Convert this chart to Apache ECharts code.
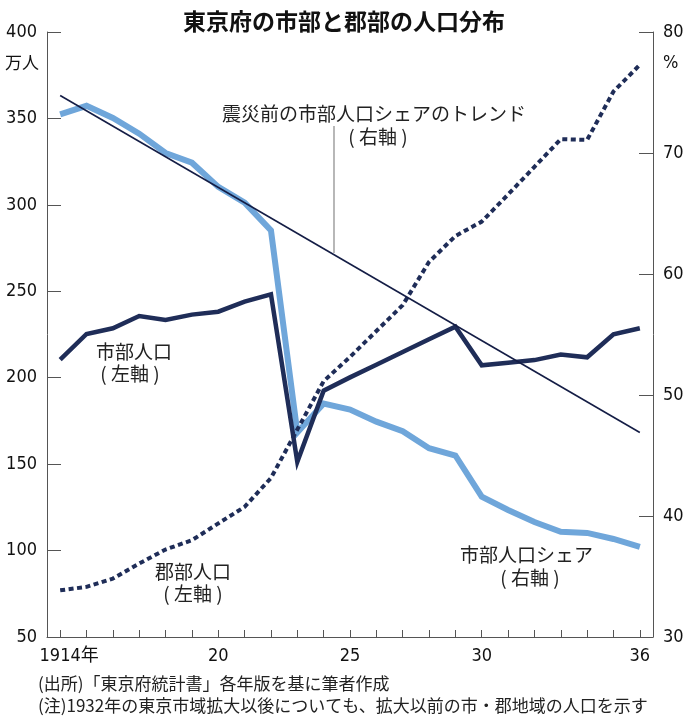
<!DOCTYPE html>
<html>
<head>
<meta charset="utf-8">
<script src="https://cdn.jsdelivr.net/npm/echarts@6/dist/echarts.min.js"></script>
<style>
html,body{margin:0;padding:0;background:#fff;}
#chart{width:688px;height:717px;}
</style>
</head>
<body>
<div id="chart"></div>
<script>
// ---- data ----
const years = ['1914','1915','1916','1917','1918','1919','1920','1921','1922','1923','1924','1925',
               '1926','1927','1928','1929','1930','1931','1932','1933','1934','1935','1936'];
// 市部人口 (万人, left axis)
const cityPop = [210.5,225.3,228.6,235.7,233.4,236.5,238.2,244.0,248.2,151.3,192.5,200.2,
                 207.5,214.9,222.2,229.5,207.2,208.7,210.2,213.4,211.8,225.1,228.6];
// 郡部人口 (万人, left axis)
const countyPop = [77.0,79.0,83.8,92.5,100.6,106.0,115.7,125.3,142.0,170.0,198.0,212.0,
                   227.0,242.0,267.0,282.0,290.3,306.0,322.0,338.0,337.6,365.6,381.0];
// 市部人口シェア (%, right axis)
const cityShare = [73.2,73.9,72.9,71.6,70.0,69.2,67.2,65.9,63.6,46.9,49.3,48.8,
                   47.8,47.0,45.6,45.0,41.6,40.5,39.5,38.7,38.6,38.1,37.45];
// 震災前の市部人口シェアのトレンド (%, right axis)
const trendYears = ['1914','1936'];
const trendValues = [74.75, 46.9];
// x tick labels
const labelYears = ['1914','1920','1925','1930','1936'];
const labelTexts = ['1914年','20','25','30','36'];

// pick a condensed numeric font if one is installed
function hasFont(name) {
  const c = document.createElement('canvas').getContext('2d');
  const s = '0123456789 abcdef';
  c.font = '40px monospace'; const a = c.measureText(s).width;
  c.font = '40px "' + name + '", monospace'; const b = c.measureText(s).width;
  c.font = '40px serif'; const a2 = c.measureText(s).width;
  c.font = '40px "' + name + '", serif'; const b2 = c.measureText(s).width;
  return a !== b || a2 !== b2;
}
let NUM_FAMILY = 'Liberation Sans', NUM_SIZE = 18;
if (hasFont('Liberation Sans Narrow')) { NUM_FAMILY = 'Liberation Sans Narrow'; NUM_SIZE = 21; }
else if (hasFont('DejaVu Sans Condensed')) { NUM_FAMILY = 'DejaVu Sans Condensed'; NUM_SIZE = 18; }
const NUM_FONT = '"' + NUM_FAMILY + '","Noto Sans CJK JP",sans-serif';
const JP_FONT = '"Noto Sans CJK JP","Noto Sans",sans-serif';
const NAVY = '#1f2d58';
const BLUE = '#6fa6da';
const AXIS = '#555';

const chart = echarts.init(document.getElementById('chart'), null, {renderer:'canvas'});

function jpText(x, y, text, align, size) {
  return {type:'text', x:x, y:y, style:{text:text, fontFamily:JP_FONT, fontSize:size||19,
          fill:'#222', align:align||'center', verticalAlign:'middle'}};
}

const option = {
  backgroundColor:'#fff',
  animation:false,
  title:{
    text:'東京府の市部と郡部の人口分布',
    left:'center', top:5,
    textStyle:{fontFamily:JP_FONT, fontSize:23, fontWeight:'bold', color:'#111'}
  },
  grid:{left:47, right:35, top:32, bottom:80, containLabel:false},
  xAxis:{
    type:'category', data:years, boundaryGap:true,
    axisLine:{show:true, lineStyle:{color:AXIS, width:1}},
    axisTick:{show:true, inside:true, length:7, alignWithLabel:true, interval:0,
              lineStyle:{color:AXIS, width:1}},
    axisLabel:{
      interval:function(i, v){ return labelYears.indexOf(v) >= 0; },
      formatter:function(v){
        const k = labelYears.indexOf(v);
        if (k === 0) return '{first|' + labelTexts[k] + '}';
        return k >= 0 ? labelTexts[k] : '';
      },
      rich:{first:{padding:[0,0,0,NUM_SIZE], fontFamily:NUM_FONT, fontSize:NUM_SIZE, color:'#111'}},
      fontFamily:NUM_FONT, fontSize:NUM_SIZE, color:'#111', margin:10
    },
    splitLine:{show:false}
  },
  yAxis:[
    {
      type:'value', min:50, max:400, interval:50, position:'left',
      axisLine:{show:true, lineStyle:{color:AXIS, width:1}},
      axisTick:{show:true, inside:true, length:14, lineStyle:{color:AXIS, width:1}},
      axisLabel:{fontFamily:NUM_FONT, fontSize:NUM_SIZE, color:'#111', margin:10},
      splitLine:{show:false}
    },
    {
      type:'value', min:30, max:80, interval:10, position:'right',
      axisLine:{show:true, lineStyle:{color:AXIS, width:1}},
      axisTick:{show:true, inside:true, length:14, lineStyle:{color:AXIS, width:1}},
      axisLabel:{fontFamily:NUM_FONT, fontSize:NUM_SIZE, color:'#111', margin:10},
      splitLine:{show:false}
    }
  ],
  series:[
    {
      name:'市部人口シェア', type:'line', yAxisIndex:1, data:cityShare,
      showSymbol:false, symbol:'none',
      lineStyle:{color:BLUE, width:6, join:'miter'}, z:2
    },
    {
      name:'郡部人口', type:'line', yAxisIndex:0, data:countyPop,
      showSymbol:false, symbol:'none',
      lineStyle:{color:NAVY, width:4, type:[5,3.5], cap:'butt'}, z:3
    },
    {
      name:'市部人口', type:'line', yAxisIndex:0, data:cityPop,
      showSymbol:false, symbol:'none',
      lineStyle:{color:NAVY, width:4.5, join:'miter'}, z:4
    },
    {
      name:'トレンド', type:'line', yAxisIndex:1,
      data:trendYears.map(function(y, i){ return [y, trendValues[i]]; }),
      showSymbol:false, symbol:'none',
      lineStyle:{color:'#141d45', width:1.6}, z:5
    }
  ],
  graphic:[
    {type:'text', x:39, y:63, style:{text:'万人', fontFamily:JP_FONT, fontSize:17, fill:'#111',
      align:'right', verticalAlign:'middle'}},
    {type:'text', x:663, y:63, style:{text:'%', fontFamily:NUM_FONT, fontSize:NUM_SIZE, fill:'#111',
      align:'left', verticalAlign:'middle'}},
    {type:'line', shape:{x1:334, y1:126, x2:334, y2:253}, style:{stroke:'#888', lineWidth:1.2}},
    jpText(222, 114, '震災前の市部人口シェアのトレンド', 'left'),
    jpText(378, 137, '( 右軸 )'),
    jpText(134, 352, '市部人口'),
    jpText(130, 374, '( 左軸 )'),
    jpText(193, 572, '郡部人口'),
    jpText(193, 594, '( 左軸 )'),
    jpText(460, 555, '市部人口シェア', 'left'),
    jpText(530, 578, '( 右軸 )'),
    jpText(38, 684, '(出所)「東京府統計書」各年版を基に筆者作成', 'left', 17),
    jpText(38, 706, '(注)1932年の東京市域拡大以後についても、拡大以前の市・郡地域の人口を示す', 'left', 17)
  ]
};
chart.setOption(option);
</script>
</body>
</html>
